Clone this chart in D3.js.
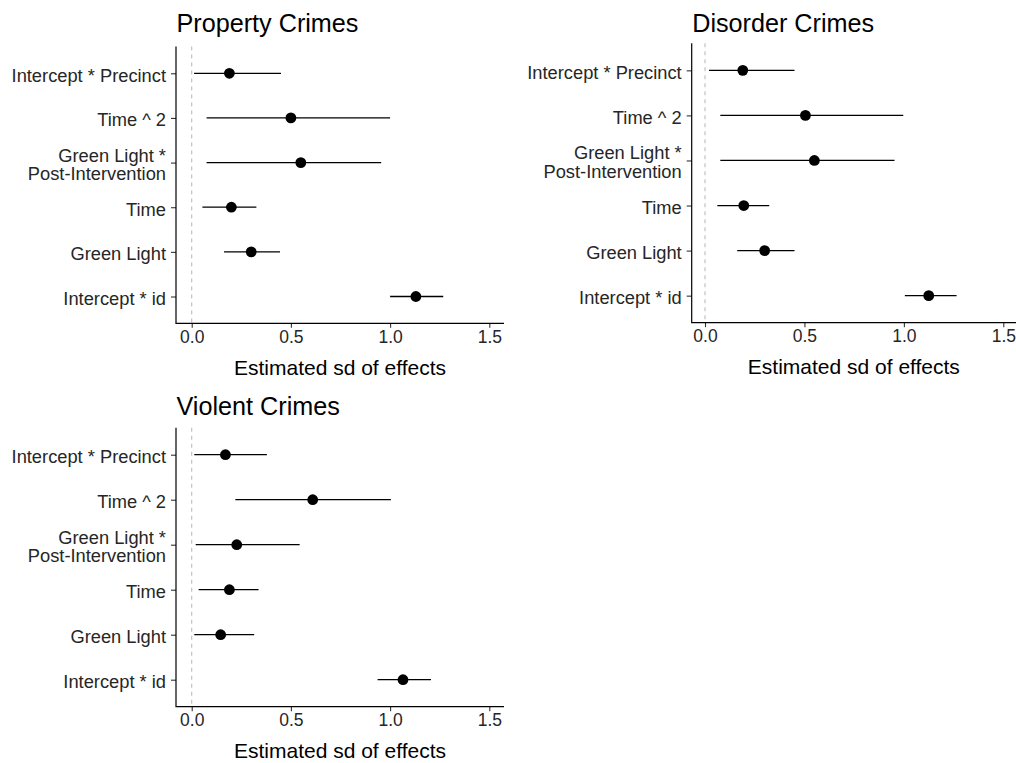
<!DOCTYPE html>
<html>
<head>
<meta charset="utf-8">
<script src="https://cdn.jsdelivr.net/npm/d3@7"></script>
<style>
  html, body { margin: 0; padding: 0; background: #fff; }
  svg { display: block; font-family: "Liberation Sans", Arial, sans-serif; }
</style>
</head>
<body>
<svg id="chart" width="1016" height="763"></svg>
<script>
// ---- data ----
const categories = ["Intercept * Precinct", "Time ^ 2", "Green Light *\nPost-Intervention", "Time", "Green Light", "Intercept * id"];
const xTicks = [0, 0.5, 1.0, 1.5];
const panelTitles = ["Property Crimes", "Disorder Crimes", "Violent Crimes"];
const xAxisTitle = "Estimated sd of effects";

const propertyEst = [0.19, 0.50, 0.55, 0.20, 0.30, 1.13];
const propertyLo  = [0.012, 0.075, 0.075, 0.054, 0.163, 1.00];
const propertyHi  = [0.45, 1.00, 0.955, 0.326, 0.445, 1.268];

const disorderEst = [0.19, 0.505, 0.55, 0.195, 0.30, 1.125];
const disorderLo  = [0.02, 0.077, 0.077, 0.062, 0.162, 1.005];
const disorderHi  = [0.45, 0.997, 0.953, 0.323, 0.45, 1.265];

const violentEst = [0.17, 0.61, 0.227, 0.19, 0.146, 1.065];
const violentLo  = [0.013, 0.22, 0.02, 0.035, 0.013, 0.937];
const violentHi  = [0.379, 1.004, 0.544, 0.337, 0.315, 1.206];

const seriesList = [
  {est: propertyEst, lo: propertyLo, hi: propertyHi},
  {est: disorderEst, lo: disorderLo, hi: disorderHi},
  {est: violentEst, lo: violentLo, hi: violentHi}
];

// ---- layout ----
const layouts = [
  {left: 176, right: 504, top: 46.5, bottom: 323.3, x0: 191.7, x15: 489.3, titleY: 31.5},
  {left: 691.7, right: 1016, top: 43.3, bottom: 322.7, x0: 705, x15: 1003.3, titleY: 31.5},
  {left: 176, right: 504, top: 427.7, bottom: 706.7, x0: 191.7, x15: 489.3, titleY: 415}
];

const svg = d3.select("#chart");
const textColor = "#262626";

layouts.forEach((L, i) => {
  const s = seriesList[i];
  const g = svg.append("g");
  const x = d3.scaleLinear().domain([0, 1.5]).range([L.x0, L.x15]);
  const y = d3.scalePoint().domain(categories).range([L.top, L.bottom]).padding(0.6);

  // title
  g.append("text")
    .attr("x", L.left + 0.5).attr("y", L.titleY)
    .attr("font-size", "25.2px").attr("fill", "#000")
    .text(panelTitles[i]);

  // dashed zero line
  g.append("line")
    .attr("x1", x(0)).attr("x2", x(0))
    .attr("y1", L.top).attr("y2", L.bottom)
    .attr("stroke", "#bdbdbd").attr("stroke-width", 1.1)
    .attr("stroke-dasharray", "4,4");

  // error bars
  const rows = categories.map((c, k) => ({c, est: s.est[k], lo: s.lo[k], hi: s.hi[k]}));
  g.selectAll("line.err").data(rows).enter().append("line")
    .attr("class", "err")
    .attr("x1", d => x(d.lo)).attr("x2", d => x(d.hi))
    .attr("y1", d => y(d.c)).attr("y2", d => y(d.c))
    .attr("stroke", "#000").attr("stroke-width", 1.3);

  g.selectAll("circle.pt").data(rows).enter().append("circle")
    .attr("class", "pt")
    .attr("cx", d => x(d.est)).attr("cy", d => y(d.c))
    .attr("r", 5.4).attr("fill", "#000");

  // x axis
  const xa = g.append("g").attr("transform", `translate(0,${L.bottom})`)
    .call(d3.axisBottom(x).tickValues(xTicks).tickFormat(d3.format(".1f")).tickSize(4.5).tickSizeOuter(0));
  xa.select(".domain").remove();
  xa.selectAll(".tick line").attr("stroke", "#333").attr("stroke-width", 1.1);
  xa.selectAll(".tick text").attr("font-size", "17.5px").attr("fill", textColor)
    .attr("font-family", "Liberation Sans, Arial, sans-serif").attr("y", 7).attr("dy", "0.71em");

  // y axis
  const ya = g.append("g").attr("transform", `translate(${L.left},0)`)
    .call(d3.axisLeft(y).tickSize(5).tickSizeOuter(0));
  ya.select(".domain").remove();
  ya.selectAll(".tick line").attr("stroke", "#333").attr("stroke-width", 1.1);
  ya.selectAll(".tick text").each(function(d) {
    const t = d3.select(this);
    t.text(null).attr("font-size", "18.3px").attr("fill", textColor)
      .attr("font-family", "Liberation Sans, Arial, sans-serif").attr("x", -10);
    const lines = d.split("\n");
    const lh = 18.8;
    const start = -(lines.length - 1) * lh / 2;
    lines.forEach((ln, j) => {
      t.append("tspan").attr("x", -10).attr("y", start + j * lh + 2).attr("dy", "0.32em").text(ln);
    });
  });

  // axis lines
  g.append("path")
    .attr("d", `M${L.left},${L.top}V${L.bottom}H${L.right}`)
    .attr("fill", "none").attr("stroke", "#000").attr("stroke-width", 1.2);

  // x axis title
  g.append("text")
    .attr("x", (L.left + L.right) / 2).attr("y", L.bottom + 51.7)
    .attr("text-anchor", "middle").attr("font-size", "21px").attr("fill", "#000")
    .text(xAxisTitle);
});
</script>
</body>
</html>
